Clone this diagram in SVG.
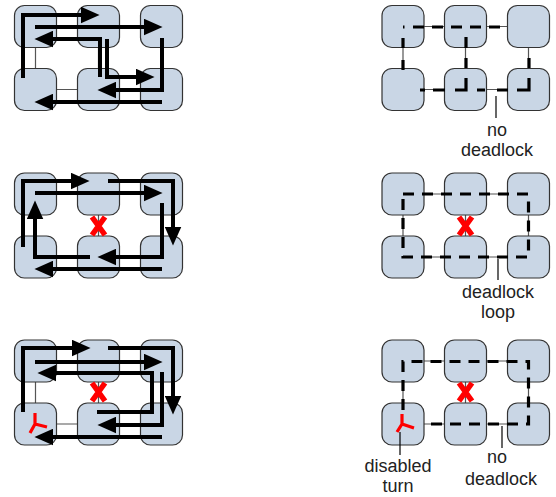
<svg xmlns="http://www.w3.org/2000/svg" width="556" height="497" viewBox="0 0 556 497">
<style>
.node rect{fill:#c9d6e5;stroke:#333;stroke-width:1.2}
.link{stroke:#555;stroke-width:1.2;fill:none}
.arr{stroke:#000;stroke-width:4;fill:none;marker-end:url(#ah)}
.dash{stroke:#000;stroke-width:3.2;fill:none;stroke-dasharray:11 8}
.x{stroke:#f00;stroke-width:5.5;fill:none}
.turn{stroke:#f00;stroke-width:3.2;fill:none}
.lead{stroke:#000;stroke-width:1.2}
text{font-family:"Liberation Sans",Arial,sans-serif;font-size:18px;fill:#222;text-anchor:middle}
</style>
<defs>
<marker id="ah" markerUnits="userSpaceOnUse" markerWidth="19" markerHeight="17" viewBox="0 0 18 16" refX="8" refY="8" orient="auto">
<path d="M0,0 L18,8 L0,16 z" fill="#000"/>
</marker>
</defs>

<!-- links (under nodes) -->
<g id="links">
<path class="link" d="M35.5,26.5H161.5M35.5,89.5H161.5M35.5,26.5V89.5M98.5,26.5V89.5M161.5,26.5V89.5"/>
<path class="link" d="M35.5,194H161.5M35.5,257H161.5M35.5,194V257M98.5,194V257M161.5,194V257"/>
<path class="link" d="M35.5,361H161.5M35.5,424H161.5M35.5,361V424M98.5,361V424M161.5,361V424"/>
<path class="link" d="M403,26.5H528.5M403,89.5H528.5M403,26.5V89.5M465.5,26.5V89.5M528.5,26.5V89.5"/>
<path class="link" d="M403,194H528.5M403,257H528.5M403,194V257M465.5,194V257M528.5,194V257"/>
<path class="link" d="M403,361H528.5M403,424H528.5M403,361V424M465.5,361V424M528.5,361V424"/>
</g>

<!-- left panels nodes -->
<g id="L1n1" class="node"><rect x="14.5" y="5.5" width="42" height="42" rx="10"/></g>
<g id="L1n2" class="node"><rect x="77.5" y="5.5" width="42" height="42" rx="10"/></g>
<g id="L1n3" class="node"><rect x="140.5" y="5.5" width="42" height="42" rx="10"/></g>
<g id="L1n4" class="node"><rect x="14.5" y="68.5" width="42" height="42" rx="10"/></g>
<g id="L1n5" class="node"><rect x="77.5" y="68.5" width="42" height="42" rx="10"/></g>
<g id="L1n6" class="node"><rect x="140.5" y="68.5" width="42" height="42" rx="10"/></g>

<g id="L2n1" class="node"><rect x="14.5" y="173" width="42" height="42" rx="10"/></g>
<g id="L2n2" class="node"><rect x="77.5" y="173" width="42" height="42" rx="10"/></g>
<g id="L2n3" class="node"><rect x="140.5" y="173" width="42" height="42" rx="10"/></g>
<g id="L2n4" class="node"><rect x="14.5" y="236" width="42" height="42" rx="10"/></g>
<g id="L2n5" class="node"><rect x="77.5" y="236" width="42" height="42" rx="10"/></g>
<g id="L2n6" class="node"><rect x="140.5" y="236" width="42" height="42" rx="10"/></g>

<g id="L3n1" class="node"><rect x="14.5" y="340" width="42" height="42" rx="10"/></g>
<g id="L3n2" class="node"><rect x="77.5" y="340" width="42" height="42" rx="10"/></g>
<g id="L3n3" class="node"><rect x="140.5" y="340" width="42" height="42" rx="10"/></g>
<g id="L3n4" class="node"><rect x="14.5" y="403" width="42" height="42" rx="10"/></g>
<g id="L3n5" class="node"><rect x="77.5" y="403" width="42" height="42" rx="10"/></g>
<g id="L3n6" class="node"><rect x="140.5" y="403" width="42" height="42" rx="10"/></g>

<!-- right panels nodes -->
<g id="R1n1" class="node"><rect x="382" y="5.5" width="42" height="42" rx="10"/></g>
<g id="R1n2" class="node"><rect x="444.5" y="5.5" width="42" height="42" rx="10"/></g>
<g id="R1n3" class="node"><rect x="507.5" y="5.5" width="42" height="42" rx="10"/></g>
<g id="R1n4" class="node"><rect x="382" y="68.5" width="42" height="42" rx="10"/></g>
<g id="R1n5" class="node"><rect x="444.5" y="68.5" width="42" height="42" rx="10"/></g>
<g id="R1n6" class="node"><rect x="507.5" y="68.5" width="42" height="42" rx="10"/></g>

<g id="R2n1" class="node"><rect x="382" y="173" width="42" height="42" rx="10"/></g>
<g id="R2n2" class="node"><rect x="444.5" y="173" width="42" height="42" rx="10"/></g>
<g id="R2n3" class="node"><rect x="507.5" y="173" width="42" height="42" rx="10"/></g>
<g id="R2n4" class="node"><rect x="382" y="236" width="42" height="42" rx="10"/></g>
<g id="R2n5" class="node"><rect x="444.5" y="236" width="42" height="42" rx="10"/></g>
<g id="R2n6" class="node"><rect x="507.5" y="236" width="42" height="42" rx="10"/></g>

<g id="R3n1" class="node"><rect x="382" y="340" width="42" height="42" rx="10"/></g>
<g id="R3n2" class="node"><rect x="444.5" y="340" width="42" height="42" rx="10"/></g>
<g id="R3n3" class="node"><rect x="507.5" y="340" width="42" height="42" rx="10"/></g>
<g id="R3n4" class="node"><rect x="382" y="403" width="42" height="42" rx="10"/></g>
<g id="R3n5" class="node"><rect x="444.5" y="403" width="42" height="42" rx="10"/></g>
<g id="R3n6" class="node"><rect x="507.5" y="403" width="42" height="42" rx="10"/></g>

<g id="connectors">
<!-- panel 1 left -->
<path class="arr" d="M23,78V15H89"/>
<path class="arr" d="M35,27H152"/>
<path class="arr" d="M100,77V39H45"/>
<path class="arr" d="M107,39V77H144"/>
<path class="arr" d="M162,38V90H108"/>
<path class="arr" d="M162,102H45"/>
<!-- panel 2 left -->
<path class="arr" d="M23,247V181H79"/>
<path class="arr" d="M35,193H152"/>
<path class="arr" d="M108,181H173V235"/>
<path class="arr" d="M162,203V257H108"/>
<path class="arr" d="M90,257H35V211"/>
<path class="arr" d="M162,269H45"/>
<!-- panel 3 left -->
<path class="arr" d="M23,412V348H80"/>
<path class="arr" d="M35,362H152"/>
<path class="arr" d="M108,348H173V404"/>
<path class="arr" d="M97,412H152V373H48"/>
<path class="arr" d="M162,372V425H108"/>
<path class="arr" d="M162,437H45"/>

<!-- right panels dashed -->
<path class="dash" style="stroke-dasharray:1.5 8.5 11 8 11 8 11 8 11 8 11 8" d="M403,27H508"/>
<path class="dash" style="stroke-dasharray:10 12 10 20" d="M403,38V70"/>
<path class="dash" style="stroke-dasharray:11 10 10 10 23 10 12 8 5 20" d="M466,37V90H420"/>
<path class="dash" style="stroke-dasharray:10 10 24 9 11 12 8 20" d="M529,58V90H477"/>
<path class="dash" d="M403,194H528.5V257H403Z"/>
<path class="dash" d="M403,410V361.5H528.5V424H423"/>

<!-- leaders -->
<line class="lead" x1="496" y1="96" x2="496" y2="118"/>
<line class="lead" x1="498" y1="259" x2="498" y2="280"/>
<line class="lead" x1="400" y1="432" x2="400" y2="455"/>
<line class="lead" x1="502" y1="426" x2="502" y2="448"/>
</g>

<!-- red marks -->
<g id="marks">
<path class="x" d="M92,217L105,235M105,217L92,235"/>
<path class="x" d="M92,383L105,401M105,383L92,401"/>
<path class="x" d="M459,217L472,235M472,217L459,235"/>
<path class="x" d="M459,383L472,401M472,383L459,401"/>
<path class="turn" d="M35,424V413M35,424L47,427M35,424L30,433"/>
<path class="turn" d="M402,424V414M402,424L414,428M402,424L397,432"/>
</g>

<g id="labels">
<text x="497" y="136">no</text>
<text x="497" y="156">deadlock</text>
<text x="498" y="298">deadlock</text>
<text x="498" y="318">loop</text>
<text x="398" y="472">disabled</text>
<text x="398" y="492">turn</text>
<text x="497" y="463">no</text>
<text x="501" y="485">deadlock</text>
</g>
</svg>
